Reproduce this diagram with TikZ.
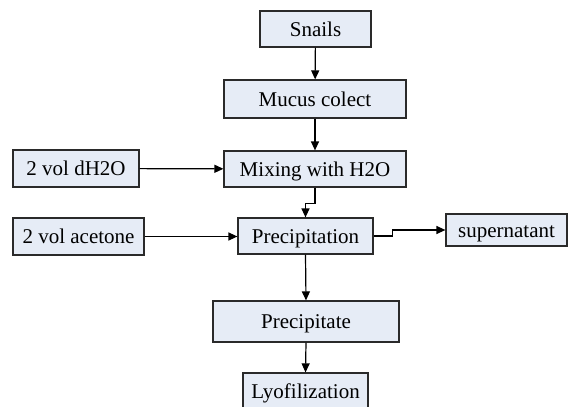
\documentclass[tikz,border=0pt]{standalone}
\usepackage{fontspec}
\setmainfont{Liberation Serif}
\usetikzlibrary{arrows.meta}
\definecolor{boxfill}{HTML}{E6ECF6}
\definecolor{boxline}{HTML}{2A2A2A}
\begin{document}
\begin{tikzpicture}[x=1pt,y=-1pt,
  procbox/.style={draw=boxline,fill=boxfill,line width=1.2pt,inner sep=0pt,
    text height=16pt,text depth=2pt,
    font=\fontsize{21}{25}\selectfont},
  conn/.style={line width=1.2pt,-{Triangle[length=9pt,width=8pt]}}]
\useasboundingbox (0,0) rectangle (568,407);
\clip (0,0) rectangle (568,407);
\node[procbox,minimum width=111pt,minimum height=36pt] (snails) at (315.5,29) {Snails};
\node[procbox,minimum width=182pt,minimum height=38pt] (mucus) at (315,99) {Mucus colect};
\node[procbox,minimum width=182pt,minimum height=36pt] (mix) at (315,169) {Mixing with H2O};
\node[procbox,minimum width=126pt,minimum height=37pt] (dh2o) at (76,168.5) {2 vol dH2O};
\node[procbox,minimum width=131pt,minimum height=37pt] (acet) at (78.5,236.5) {2 vol acetone};
\node[procbox,minimum width=135pt,minimum height=36pt] (prec) at (305.5,236) {Precipitation};
\node[procbox,minimum width=121pt,minimum height=32pt] (sup) at (506.5,230) {supernatant};
\node[procbox,minimum width=186pt,minimum height=41pt] (ppt) at (306,321.5) {Precipitate};
\node[procbox,minimum width=125pt,minimum height=37pt] (lyo) at (305.5,391.5) {Lyofilization};
\draw[conn] (snails) -- (mucus);
\draw[conn] (mucus) -- (mix);
\draw[conn] (dh2o) -- (mix);
\draw[conn] (mix.south) -- ++(0,16) -| (prec.north);
\draw[conn] (acet.east) -- (acet.east -| prec.west);
\draw[conn] (prec.east) -- ++(19,0) |- (sup.west);
\draw[conn] (prec.south) -- (ppt.north);
\draw[conn] (ppt.south) -- (lyo.north);
\end{tikzpicture}
\end{document}
